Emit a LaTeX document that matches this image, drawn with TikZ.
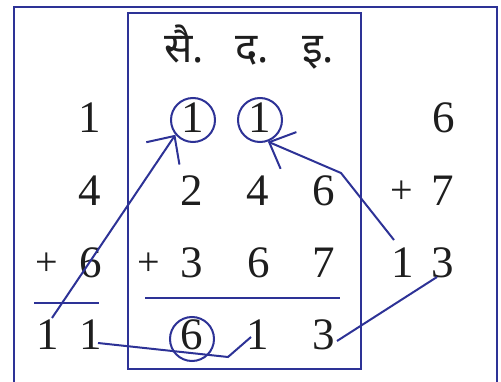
\documentclass[tikz,border=0pt]{standalone}
\usepackage{fontspec}
\setmainfont{Liberation Serif}
\newfontfamily\devfont[Script=Devanagari]{Noto Sans}
\usetikzlibrary{arrows.meta}
\definecolor{inkblue}{RGB}{45,50,150}
\definecolor{digitgray}{RGB}{30,30,30}

\begin{document}
\begin{tikzpicture}[
    x=1pt, y=-1pt,
    digit/.style={anchor=base, inner sep=0pt, text=digitgray, font=\fontsize{45}{52}\selectfont},
    plus/.style={inner sep=0pt, text=digitgray, font=\fontsize{40}{46}\selectfont},
    head/.style={anchor=base, inner sep=0pt, text=digitgray, font=\devfont\bfseries\fontsize{42}{48}\selectfont},
    ring/.style={circle, draw=inkblue, line width=2pt, minimum size=44pt, inner sep=0pt},
    boxline/.style={draw=inkblue, line width=2pt},
    link/.style={draw=inkblue, line width=2pt},
    carry/.style={link, -{Straight Barb[length=21pt, width=40pt, line width=2pt]}},
]
\useasboundingbox (0,0) rectangle (501,382);

% Frames
\draw[boxline] (14,382) -- (14,7) -- (497,7) -- (497,382);
\draw[boxline] (128,13) rectangle (361,369);

% Column heads
\node[head] (hs) at (184,63) {सै.};
\node[head] (hd) at (252,63) {द.};
\node[head] (hi) at (318,63) {इ.};

% Carry rings
\node[ring] (ringS) at (193,120) {};
\node[ring] (ringD) at (260,120) {};
\node[ring] (ringR) at (192,339) {};

% Row 1
\node[digit] (a1) at (90,133) {1};
\node[digit] (s1) at (193,133) {1};
\node[digit] (d1) at (260,133) {1};
\node[digit] (b1) at (444,133) {6};

% Row 2
\node[digit] (a2) at (90,206) {4};
\node[digit] (s2) at (192,206) {2};
\node[digit] (d2) at (258,206) {4};
\node[digit] (e2) at (324,206) {6};
\node[plus] (pb2) at (402,192) {+};
\node[digit] (b2) at (443,206) {7};

% Row 3
\node[plus] (pa3) at (47,264) {+};
\node[digit] (a3) at (91,278) {6};
\node[plus] (ps3) at (149,264) {+};
\node[digit] (s3) at (192,278) {3};
\node[digit] (d3) at (259,278) {6};
\node[digit] (e3) at (324,278) {7};
\node[digit] (c3) at (403,278) {1};
\node[digit] (b3) at (443,278) {3};

% Sum rules
\draw[link] (34,303) -- (99,303);
\draw[link] (145,298) -- (340,298);

% Row 4
\node[digit] (t4) at (48,349) {1};
\node[digit] (a4) at (91,349) {1};
\node[digit] (s4) at (192,349) {6};
\node[digit] (d4) at (258,349) {1};
\node[digit] (e4) at (324,349) {3};

% Connector ends
\coordinate (fromT) at (52,318);
\coordinate (fromC) at (394,240);
\coordinate (bendC) at (341,173);
\coordinate (fromB) at (437,277);
\coordinate (toE) at (337,341);
\coordinate (fromA) at (98,343);
\coordinate (bendA) at (228,357);
\coordinate (toD) at (251,337);

% Carries and links
\draw[carry] (fromT) -- (ringS.220);
\draw[carry] (fromC) -- (bendC) -- (ringD.290);
\draw[link] (fromB) -- (toE);
\draw[link] (fromA) -- (bendA) -- (toD);

\end{tikzpicture}
\end{document}
